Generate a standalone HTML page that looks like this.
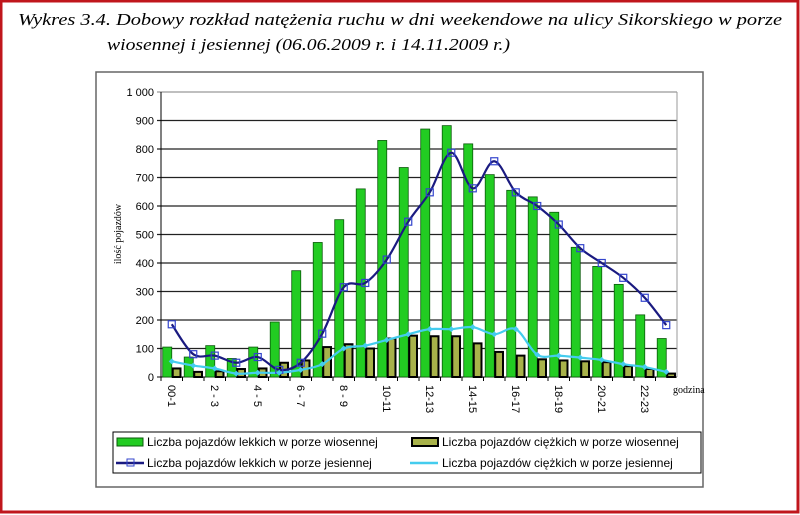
<!DOCTYPE html>
<html><head><meta charset="utf-8"><style>
body{margin:0;background:#fff;}
svg{display:block;font-family:"Liberation Sans",sans-serif;}
</style></head><body>
<svg id="chart" width="800" height="515" viewBox="0 0 800 515">
<rect x="1" y="1" width="797" height="511" fill="#fff" stroke="#c0161c" stroke-width="3"/>
<text x="18" y="25" font-family="Liberation Serif,serif" font-style="italic" font-size="17" textLength="764" lengthAdjust="spacingAndGlyphs">Wykres 3.4. Dobowy rozkład natężenia ruchu w dni weekendowe na ulicy Sikorskiego w porze</text>
<text x="107" y="50" font-family="Liberation Serif,serif" font-style="italic" font-size="17" textLength="403" lengthAdjust="spacingAndGlyphs">wiosennej i jesiennej (06.06.2009 r. i 14.11.2009 r.)</text>
<rect x="96" y="72" width="607" height="415" fill="#fff" stroke="#666" stroke-width="1.5"/>
<g id="plot"></g>
<text transform="translate(121,234) rotate(-90)" text-anchor="middle" font-family="Liberation Serif,serif" font-size="10">ilość pojazdów</text>
<text x="673" y="393" font-family="Liberation Serif,serif" font-size="10">godzina</text>
<g>
<rect x="113" y="432" width="588" height="41" fill="#fff" stroke="#000" stroke-width="1"/>
<rect x="117" y="438" width="26" height="8" fill="#22cc22" stroke="#0a5a0a"/>
<text x="147" y="446" font-size="12">Liczba pojazdów lekkich w porze wiosennej</text>
<rect x="412" y="438" width="26" height="8" fill="#a8b24a" stroke="#000" stroke-width="2"/>
<text x="442" y="446" font-size="12">Liczba pojazdów ciężkich w porze wiosennej</text>
<line x1="116" y1="463" x2="144" y2="463" stroke="#1a1a80" stroke-width="2.5"/>
<rect x="127" y="459" width="7" height="7" fill="none" stroke="#3344cc"/>
<text x="147" y="467" font-size="12">Liczba pojazdów lekkich w porze jesiennej</text>
<line x1="410" y1="463" x2="438" y2="463" stroke="#44ccee" stroke-width="2.5"/>
<text x="442" y="467" font-size="12">Liczba pojazdów ciężkich w porze jesiennej</text>
</g>
</svg>
<script>
const categories=["00-1","1-2","2 - 3","3-4","4 - 5","5-6","6 - 7","7-8","8 - 9","9-10","10-11","11-12","12-13","13-14","14-15","15-16","16-17","17-18","18-19","19-20","20-21","21-22","22-23","23-24"];
const lightSpring=[105,70,110,65,105,193,373,472,552,660,830,735,870,882,818,710,655,632,578,455,388,325,218,135];
const heavySpring=[30,18,20,28,30,50,58,105,115,100,135,145,143,143,118,88,75,62,58,55,52,38,28,12];
const lightAutumn=[185,80,75,50,70,25,50,152,315,330,412,545,648,787,662,757,648,600,535,452,400,348,278,182];
const heavyAutumn=[55,40,30,12,15,15,25,45,100,110,130,150,168,168,175,150,168,78,75,68,60,45,35,18];
const yTicks=[0,100,200,300,400,500,600,700,800,900,1000];
const NS="http://www.w3.org/2000/svg";
const g=document.getElementById('plot');
const X0=161,X1=677,Y0=377,Y1=92,MAX=1000;
const bw=(X1-X0)/categories.length;
const y=v=>Y0-(v/MAX)*(Y0-Y1);
const xc=i=>X0+bw*(i+0.5);
function mk(t,a){const e=document.createElementNS(NS,t);for(const k in a)e.setAttribute(k,a[k]);g.appendChild(e);return e;}
yTicks.forEach(t=>{
 const l=mk('line',{x1:X0-4,x2:X1,y1:y(t),y2:y(t),stroke:t===0?'#000':(t===1000?'#999':'#222'),'stroke-width':t===0?1:1.2});
 
 
 const tx=mk('text',{x:X0-7,y:y(t)+4,'text-anchor':'end','font-size':11,'font-family':'Liberation Sans,sans-serif'});
 tx.textContent=t===1000?'1 000':String(t);
 
 
});
mk('line',{x1:X0,x2:X0,y1:Y1,y2:Y0,stroke:'#000'});
mk('line',{x1:X1,x2:X1,y1:Y1,y2:Y0,stroke:'#999'});
categories.forEach((c,i)=>{
 const tk=mk('line',{x1:X0+bw*i,x2:X0+bw*i,y1:Y0,y2:Y0+4,stroke:'#000'});
 
 
 const b1=mk('rect',{x:xc(i)-bw*0.42,y:y(lightSpring[i]),width:bw*0.42,height:Y0-y(lightSpring[i]),fill:'#22cc22',stroke:'#0a5a0a','stroke-width':0.8});
 
 
 const b2=mk('rect',{x:xc(i)+1,y:y(heavySpring[i]),width:bw*0.36,height:Y0-y(heavySpring[i]),fill:'#a8b24a',stroke:'#000','stroke-width':2});
 
 
 if(i%2===0){
  const tx=mk('text',{transform:`translate(${xc(i)-4},${Y0+8}) rotate(90)`,'font-size':11,'font-family':'Liberation Sans,sans-serif'});
  tx.textContent=c;
  
  
 }
});
function smooth(vals){
 const p=vals.map((v,i)=>[xc(i),y(v)]);let d=`M${p[0][0]},${p[0][1]}`;
 for(let i=0;i<p.length-1;i++){const p0=p[i-1]||p[i],p1=p[i],p2=p[i+1],p3=p[i+2]||p2;
  d+=` C${p1[0]+(p2[0]-p0[0])/6},${p1[1]+(p2[1]-p0[1])/6} ${p2[0]-(p3[0]-p1[0])/6},${p2[1]-(p3[1]-p1[1])/6} ${p2[0]},${p2[1]}`;}
 return d;}
const la=mk('path',{d:smooth(lightAutumn),fill:'none',stroke:'#1a1a80','stroke-width':2.2});


const ha=mk('path',{d:smooth(heavyAutumn),fill:'none',stroke:'#44ccee','stroke-width':2.2});


lightAutumn.forEach((v,i)=>{const m=mk('rect',{x:xc(i)-3.5,y:y(v)-3.5,width:7,height:7,fill:'none',stroke:'#3344cc','stroke-width':1.2});
 
 });
heavyAutumn.forEach((v,i)=>{const m=mk('path',{d:`M${xc(i)-3},${y(v)} L${xc(i)},${y(v)-3} L${xc(i)+3},${y(v)} L${xc(i)},${y(v)+3}Z`,fill:'#44ccee'});
 
 });
</script>
</body></html>
